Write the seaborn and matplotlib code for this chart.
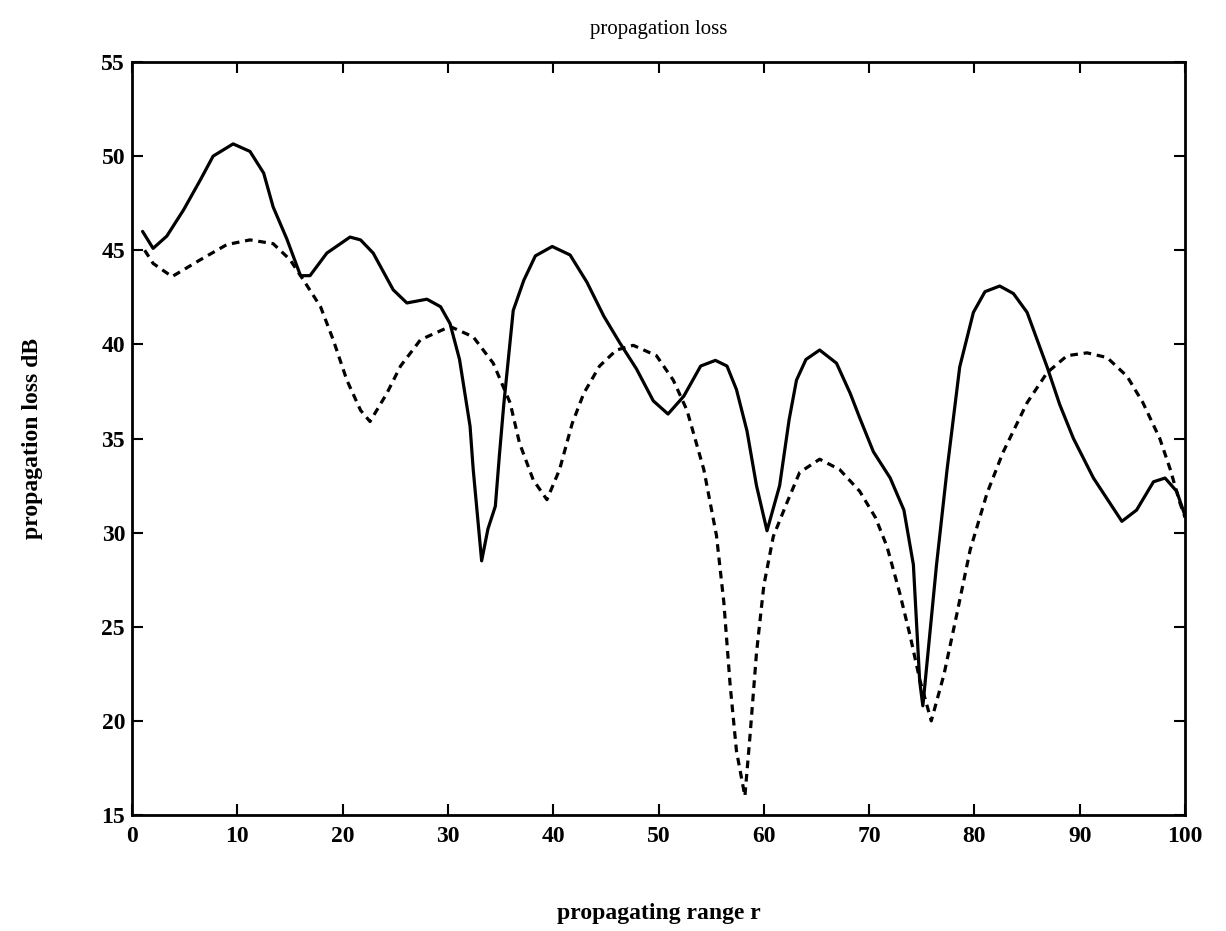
import matplotlib
matplotlib.use("Agg")
import matplotlib.pyplot as plt
import seaborn as sns
import pandas as pd

# Solid curve
solid_x = [1.0, 2.0, 3.3, 4.9, 6.5, 7.7, 9.6, 11.2, 12.5, 13.4, 14.7, 16.0, 16.9, 18.5, 20.7,
           21.7, 22.9, 24.8, 26.1, 28.0, 29.3, 30.2, 31.1, 32.1, 32.4, 33.2, 33.8, 34.5, 34.9,
           35.3, 36.2, 37.2, 38.3, 39.9, 41.6, 43.2, 44.8, 46.3, 47.9, 49.5, 50.9, 52.4, 54.0,
           55.4, 56.5, 57.4, 58.4, 59.3, 60.3, 61.5, 62.4, 63.1, 64.0, 65.3, 66.9, 68.2, 69.1,
           70.4, 72.0, 73.3, 74.2, 74.8, 75.1, 76.4, 77.4, 78.6, 79.9, 81.0, 82.4, 83.7, 85.0,
           86.9, 88.1, 89.4, 91.3, 94.0, 95.4, 97.0, 98.1, 99.2, 100.0]
solid_y = [46.0, 45.1, 45.75, 47.15, 48.75, 50.0, 50.65, 50.25, 49.1, 47.3, 45.6, 43.65, 43.65, 44.85, 45.7,
           45.55, 44.85, 42.9, 42.2, 42.4, 42.0, 41.1, 39.2, 35.65, 33.35, 28.5, 30.2, 31.4, 34.2,
           36.8, 41.8, 43.4, 44.7, 45.2, 44.75, 43.3, 41.5, 40.1, 38.7, 37.0, 36.3, 37.25, 38.85,
           39.15, 38.85, 37.6, 35.4, 32.5, 30.1, 32.5, 36.0, 38.1, 39.2, 39.7, 39.0, 37.4, 36.1,
           34.3, 32.9, 31.2, 28.3, 22.1, 20.8, 28.3, 33.35, 38.8, 41.7, 42.8, 43.1, 42.7, 41.7,
           38.8, 36.8, 35.0, 32.9, 30.6, 31.2, 32.7, 32.9, 32.2, 30.9]

# Dashed curve
dashed_x = [1.2, 2.0, 3.8, 6.5, 9.0, 11.2, 13.4, 15.0, 16.3, 17.9, 19.1, 20.4, 21.7, 22.6, 24.2,
            25.5, 27.4, 30.2, 32.4, 34.3, 35.9, 36.8, 38.1, 39.4, 40.6, 41.8, 42.9, 44.4, 46.0,
            47.6, 49.8, 51.4, 52.7, 54.3, 55.5, 56.2, 56.8, 57.4, 58.2, 58.7, 59.3, 60.0, 60.9,
            62.2, 63.4, 65.3, 67.2, 69.1, 70.6, 71.7, 72.9, 73.9, 74.8, 75.9, 77.1, 78.3, 79.6,
            81.2, 82.7, 85.0, 86.9, 88.8, 90.7, 92.6, 94.5, 96.0, 97.6, 98.6, 99.5, 100.0]
dashed_y = [45.0, 44.3, 43.6, 44.5, 45.3, 45.55, 45.35, 44.5, 43.4, 42.0, 40.25, 38.1, 36.5, 35.9, 37.4,
            38.85, 40.25, 40.95, 40.4, 39.0, 36.9, 34.75, 32.8, 31.75, 33.35, 35.8, 37.4, 38.85, 39.7,
            39.95, 39.4, 38.1, 36.5, 33.35, 29.85, 26.3, 21.9, 18.4, 16.0, 19.3, 23.6, 27.2, 29.8,
            31.6, 33.2, 33.9, 33.35, 32.2, 30.8, 29.25, 26.8, 24.5, 22.2, 20.0, 22.45, 25.6, 29.1,
            32.1, 34.25, 36.9, 38.5, 39.4, 39.55, 39.3, 38.3, 36.9, 35.0, 33.35, 31.6, 30.8]

x_ticks = [0, 10, 20, 30, 40, 50, 60, 70, 80, 90, 100]
y_ticks = [15, 20, 25, 30, 35, 40, 45, 50, 55]

sns.set_theme(style="white")
plt.rcParams['font.family'] = ['Liberation Serif', 'DejaVu Serif']
plt.rcParams['text.color'] = 'black'
plt.rcParams['axes.labelcolor'] = 'black'

fig = plt.figure(figsize=(12.26, 9.31), dpi=100)
ax = fig.add_axes([0.1077, 0.1246, 0.8589, 0.8088])

df_s = pd.DataFrame({"r": solid_x, "loss": solid_y})
df_d = pd.DataFrame({"r": dashed_x, "loss": dashed_y})
sns.lineplot(data=df_s, x="r", y="loss", ax=ax, color="black", linewidth=2.3, sort=False)
sns.lineplot(data=df_d, x="r", y="loss", ax=ax, color="black", linewidth=2.3, sort=False,
             linestyle=(0, (2.4, 1.8)))

ax.set_xlim(0, 100)
ax.set_ylim(15, 55)
ax.set_xticks(x_ticks)
ax.set_yticks(y_ticks)
ax.set_xticklabels([str(t) for t in x_ticks], fontsize=17, fontweight="bold", color="black")
ax.set_yticklabels([str(t) for t in y_ticks], fontsize=17, fontweight="bold", color="black")
ax.tick_params(axis="x", direction="in", length=8, width=1.5, top=True, bottom=True, pad=8,
               colors="black")
ax.tick_params(axis="y", direction="in", length=8, width=1.5, left=True, right=True, pad=5,
               colors="black")
for s in ax.spines.values():
    s.set_linewidth(2.0)
    s.set_color("black")

ax.set_title("propagation loss", fontsize=15, pad=20, color="black")
ax.set_xlabel("propagating range r", fontsize=17, fontweight="bold", labelpad=40, color="black")
ax.set_ylabel("propagation loss dB", fontsize=17, fontweight="bold", labelpad=42, color="black")

fig.savefig("out.png", dpi=100)
